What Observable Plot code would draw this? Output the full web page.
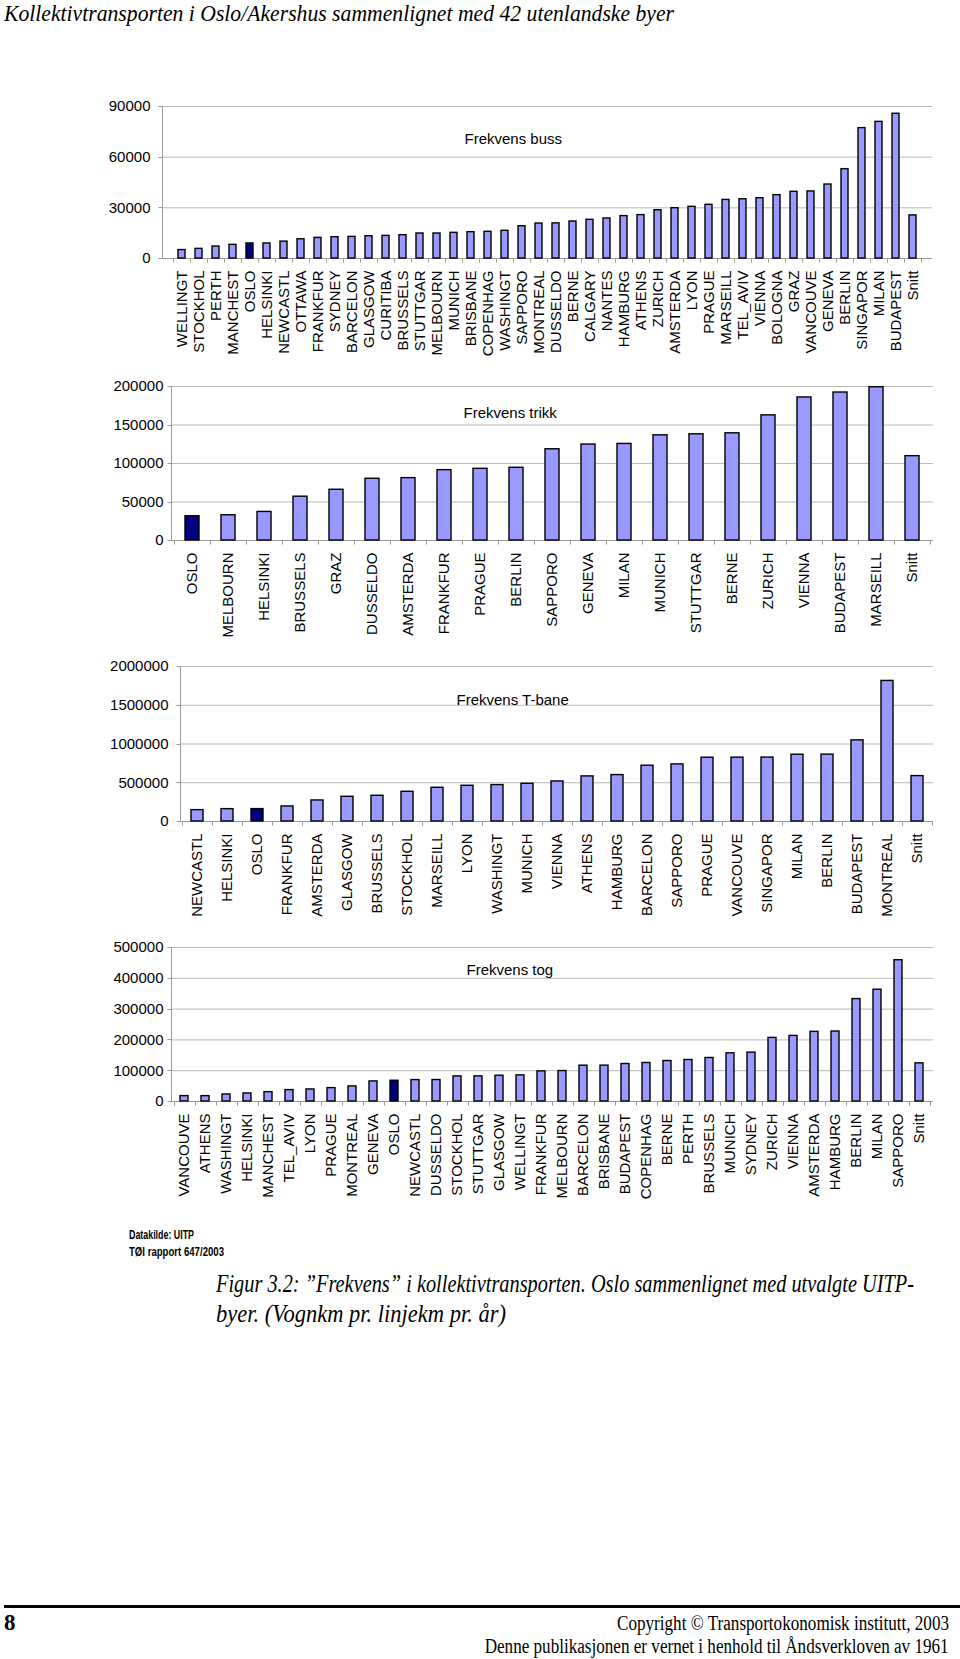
<!DOCTYPE html>
<html><head><meta charset="utf-8">
<script src="https://cdn.jsdelivr.net/npm/d3@7"></script>
<script src="https://cdn.jsdelivr.net/npm/@observablehq/plot@0.6"></script>
<style>
html,body{margin:0;padding:0;background:#fff;}
#page{position:relative;width:960px;height:1659px;overflow:hidden;background:#fff;}
#page svg{position:absolute;left:0;overflow:visible;}
.t{position:absolute;white-space:nowrap;line-height:1.2;color:#000;}
</style></head>
<body><div id="page"></div>
<script>
// ---------- DATA ----------
const busCities = ["WELLINGT","STOCKHOL","PERTH","MANCHEST","OSLO","HELSINKI","NEWCASTL","OTTAWA","FRANKFUR","SYDNEY","BARCELON","GLASGOW","CURITIBA","BRUSSELS","STUTTGAR","MELBOURN","MUNICH","BRISBANE","COPENHAG","WASHINGT","SAPPORO","MONTREAL","DUSSELDO","BERNE","CALGARY","NANTES","HAMBURG","ATHENS","ZURICH","AMSTERDA","LYON","PRAGUE","MARSEILL","TEL_AVIV","VIENNA","BOLOGNA","GRAZ","VANCOUVE","GENEVA","BERLIN","SINGAPOR","MILAN","BUDAPEST","Snitt"];
const busValues = [5000,5700,7100,8100,8900,8900,10000,11400,12200,12600,12800,13200,13400,13800,14800,14800,15200,15600,15800,16400,19100,20700,20800,21900,22900,23700,25100,25700,28600,29800,30600,31800,34700,35100,35700,37500,39500,39700,43800,52900,77200,80900,85700,25500];
const busTicks = [0,30000,60000,90000];

const trikkCities = ["OSLO","MELBOURN","HELSINKI","BRUSSELS","GRAZ","DUSSELDO","AMSTERDA","FRANKFUR","PRAGUE","BERLIN","SAPPORO","GENEVA","MILAN","MUNICH","STUTTGAR","BERNE","ZURICH","VIENNA","BUDAPEST","MARSEILL","Snitt"];
const trikkValues = [31500,32800,37100,56900,65900,80200,81000,91400,93100,94400,118500,124600,125400,136600,137900,139200,162500,185800,192200,199100,109500];
const trikkTicks = [0,50000,100000,150000,200000];

const tbaneCities = ["NEWCASTL","HELSINKI","OSLO","FRANKFUR","AMSTERDA","GLASGOW","BRUSSELS","STOCKHOL","MARSEILL","LYON","WASHINGT","MUNICH","VIENNA","ATHENS","HAMBURG","BARCELON","SAPPORO","PRAGUE","VANCOUVE","SINGAPOR","MILAN","BERLIN","BUDAPEST","MONTREAL","Snitt"];
const tbaneValues = [146600,159500,160000,194000,271600,319000,332000,383600,435000,461000,470000,487000,517000,582000,599000,720000,737000,823000,824000,825000,862000,863000,1047000,1814000,586000];
const tbaneTicks = [0,500000,1000000,1500000,2000000];

const togCities = ["VANCOUVE","ATHENS","WASHINGT","HELSINKI","MANCHEST","TEL_AVIV","LYON","PRAGUE","MONTREAL","GENEVA","OSLO","NEWCASTL","DUSSELDO","STOCKHOL","STUTTGAR","GLASGOW","WELLINGT","FRANKFUR","MELBOURN","BARCELON","BRISBANE","BUDAPEST","COPENHAG","BERNE","PERTH","BRUSSELS","MUNICH","SYDNEY","ZURICH","VIENNA","AMSTERDA","HAMBURG","BERLIN","MILAN","SAPPORO","Snitt"];
const togValues = [17400,17400,22800,26100,30400,37000,39100,43500,48900,65200,67400,69600,69800,81500,81600,83700,84800,97800,98900,116300,116400,121700,125000,131500,134800,141300,156500,158700,206500,213000,226100,227200,332600,363000,458700,123900];
const togTicks = [0,100000,200000,300000,400000,500000];

const chartTitles = ["Frekvens buss","Frekvens trikk","Frekvens T-bane","Frekvens tog"];
const highlightCity = "OSLO";

const pageTitle = "Kollektivtransporten i Oslo/Akershus sammenlignet med 42 utenlandske byer";
const sourceLines = ["Datakilde: UITP","TØI rapport 647/2003"];
const captionLines = ["Figur 3.2: \u201DFrekvens\u201D i kollektivtransporten. Oslo sammenlignet med utvalgte UITP-","byer. (Vognkm pr. linjekm pr. år)"];
const pageNumber = "8";
const footerLines = ["Copyright \u00A9 Transportokonomisk institutt, 2003","Denne publikasjonen er vernet i henhold til Åndsverkloven av 1961"];

// ---------- STYLE ----------
const barColor = "#9999ff";
const osloColor = "#000080";
const gridColor = "#b8b8b8";
const axisColor = "#9a9a9a";
const sans = "'Liberation Sans', Arial, sans-serif";
const serif = "'Liberation Serif', 'Times New Roman', serif";
const page = document.getElementById("page");

function excelAxes(tickVals) {
  return (index, scales, values, dims) => {
    const {x, y} = scales;
    const step = x.step(), bw = x.bandwidth();
    const dom = x.domain();
    const y0 = Math.round(y(0)) + 0.5, yTop = Math.round(y(d3.max(tickVals))) + 0.5;
    const xl = Math.round(dims.marginLeft) + 0.5, xr = dims.width - dims.marginRight;
    const g = d3.create("svg:g").attr("stroke", axisColor).attr("fill", "none").attr("stroke-width", 1);
    g.append("line").attr("x1", xl).attr("x2", xr).attr("y1", y0).attr("y2", y0);
    g.append("line").attr("x1", xl).attr("x2", xl).attr("y1", yTop).attr("y2", y0);
    const bounds = dom.map(c => x(c) + bw / 2 - step / 2).concat([x(dom[dom.length - 1]) + bw / 2 + step / 2]);
    for (const b of bounds) {
      const bx = Math.round(b) + 0.5;
      g.append("line").attr("x1", bx).attr("x2", bx).attr("y1", y0).attr("y2", y0 + 4);
    }
    for (const t of tickVals) {
      const ty = Math.round(y(t)) + 0.5;
      g.append("line").attr("x1", xl - 4).attr("x2", xl).attr("y1", ty).attr("y2", ty);
    }
    return g.node();
  };
}

function makeChart(cfg) {
  const data = cfg.cities.map((c, i) => ({city: c, value: cfg.values[i]}));
  const svg = Plot.plot({
    width: 960,
    height: cfg.marginTop + cfg.plotH + cfg.marginBottom,
    marginLeft: cfg.left,
    marginRight: 960 - cfg.right,
    marginTop: cfg.marginTop,
    marginBottom: cfg.marginBottom,
    style: {fontSize: "15px", fontFamily: sans, color: "#000", background: "transparent", overflow: "visible"},
    x: {domain: cfg.cities, paddingInner: 0.6, paddingOuter: 0.3, label: null},
    y: {domain: [0, d3.max(cfg.ticks)], label: null},
    color: {type: "identity"},
    marks: [
      Plot.gridY(cfg.ticks, {stroke: gridColor, strokeOpacity: 1, strokeWidth: 1}),
      excelAxes(cfg.ticks),
      Plot.axisY(cfg.ticks, {tickSize: 0, tickPadding: cfg.yPad, tickFormat: d3.format("d"), label: null, fontSize: 15}),
      Plot.axisX({tickRotate: -90, tickSize: 0, tickPadding: 12, label: null, fontSize: 15}),
      Plot.barY(data, {x: "city", y: "value", fill: d => d.city === highlightCity ? osloColor : barColor, stroke: "#000", strokeWidth: 1.4}),
      Plot.text([cfg.title], {text: d => d, frameAnchor: "top-left", dx: cfg.tdx, dy: cfg.tdy, textAnchor: "start", fontSize: 15, fill: "#000"})
    ]
  });
  svg.style.top = cfg.top + "px";
  page.appendChild(svg);
}

makeChart({cities: busCities, values: busValues, ticks: busTicks, title: chartTitles[0],
  top: 86, marginTop: 20, plotH: 152, marginBottom: 110, left: 162, right: 932, yPad: 12, tdx: 302, tdy: 27});
makeChart({cities: trikkCities, values: trikkValues, ticks: trikkTicks, title: chartTitles[1],
  top: 368, marginTop: 18, plotH: 154, marginBottom: 100, left: 171, right: 933, yPad: 8, tdx: 292, tdy: 21});
makeChart({cities: tbaneCities, values: tbaneValues, ticks: tbaneTicks, title: chartTitles[2],
  top: 640, marginTop: 26, plotH: 155, marginBottom: 100, left: 180, right: 933, yPad: 12, tdx: 276, tdy: 28});
makeChart({cities: togCities, values: togValues, ticks: togTicks, title: chartTitles[3],
  top: 921, marginTop: 26, plotH: 154, marginBottom: 95, left: 171, right: 933, yPad: 8, tdx: 295, tdy: 17});

// ---------- HTML TEXT ----------
function addText(str, o) {
  const el = document.createElement("div");
  el.className = "t";
  el.textContent = str;
  el.style.fontSize = o.size + "px";
  el.style.fontFamily = o.family;
  el.style.fontStyle = o.italic ? "italic" : "normal";
  el.style.fontWeight = o.bold ? "bold" : "normal";
  page.appendChild(el);
  // line-height 1.2: baseline offset = (1.2 + ascent - descent) / 2
  const k = o.family === serif ? (1.2 + 0.891 - 0.216) / 2 : (1.2 + 0.905 - 0.212) / 2;
  el.style.top = Math.max(0, o.baseline - k * o.size) + "px";
  const w = el.getBoundingClientRect().width;
  const s = o.width ? o.width / w : 1;
  if (o.right != null) {
    el.style.right = (960 - o.right) + "px";
    el.style.transformOrigin = "100% 0";
  } else {
    el.style.left = o.left + "px";
    el.style.transformOrigin = "0 0";
  }
  el.style.transform = `scaleX(${s})`;
  return el;
}

addText(pageTitle, {left: 4, baseline: 20, size: 23, family: serif, italic: true, width: 670});
addText(sourceLines[0], {left: 129, baseline: 1239, size: 13, family: sans, bold: true, width: 65});
addText(sourceLines[1], {left: 129, baseline: 1256, size: 13, family: sans, bold: true, width: 95});
addText(captionLines[0], {left: 216, baseline: 1292, size: 26, family: serif, italic: true, width: 698});
addText(captionLines[1], {left: 216, baseline: 1322, size: 26, family: serif, italic: true, width: 290});

const rule = document.createElement("div");
Object.assign(rule.style, {position: "absolute", left: "4px", width: "956px", top: "1605px", height: "3px", background: "#000"});
page.appendChild(rule);

addText(pageNumber, {left: 4, baseline: 1631, size: 23, family: serif, bold: true});
addText(footerLines[0], {right: 949, baseline: 1630, size: 20, family: serif, width: 332});
addText(footerLines[1], {right: 949, baseline: 1653, size: 20, family: serif, width: 464});
</script>
</body></html>
